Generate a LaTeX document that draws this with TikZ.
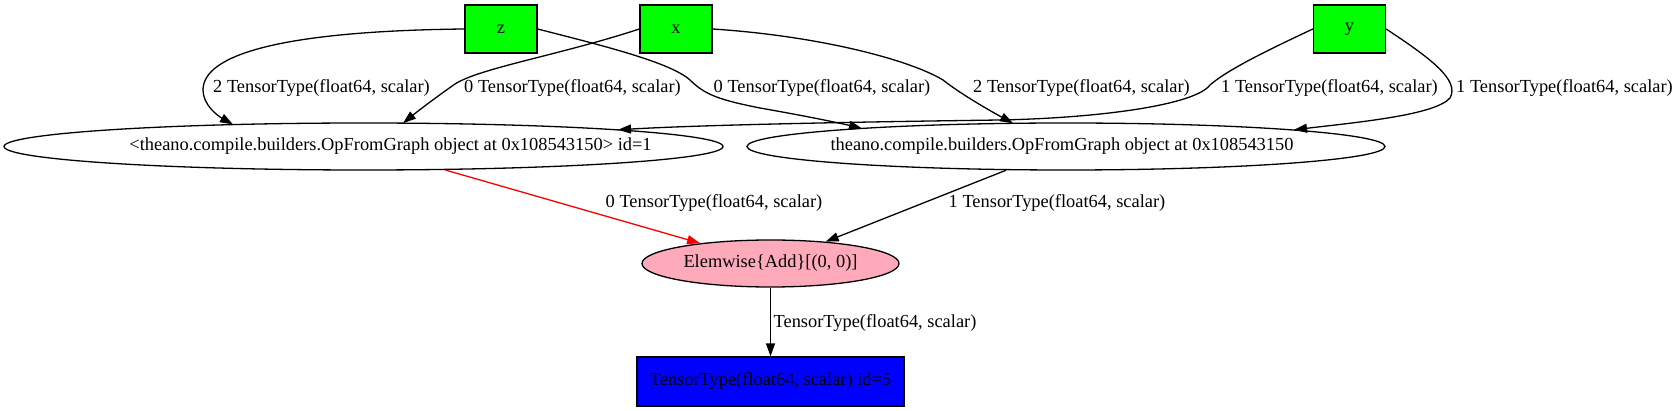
\documentclass[tikz,border=0pt]{standalone}
\usepackage{fontspec}
\setmainfont{Liberation Serif}
\usetikzlibrary{shapes.geometric,arrows.meta}
\definecolor{ingreen}{HTML}{00FF00}
\definecolor{outblue}{HTML}{0000FF}
\definecolor{applypink}{HTML}{FFAABB}
\tikzset{
  varbox/.style={draw, line width=1.3pt, fill=ingreen, minimum width=72pt, minimum height=48pt, inner sep=0pt},
  outbox/.style={draw, line width=1.3pt, fill=outblue, minimum width=267pt, minimum height=49pt, inner sep=0pt},
  opnode/.style={draw, line width=1.3pt, ellipse, minimum height=47pt, inner sep=0pt},
  edge/.style={line width=1.3pt, -{Triangle[length=13pt,width=9pt]}},
  elabel/.style={inner sep=0pt, anchor=center}
}
\begin{document}
\begin{tikzpicture}[x=1pt,y=-1pt,font=\fontsize{18.4}{22}\selectfont]
\useasboundingbox (0,0) rectangle (1680,411);
% nodes
\node[varbox] (z) at (501,29) {z};
\node[varbox] (x) at (676,29) {x};
\node[varbox] (y) at (1349.5,29) {y};
\node[opnode, minimum width=719pt, label={[xshift=27pt]center:<theano.compile.builders.OpFromGraph object at 0x108543150> id=1}] (ofg1) at (363.5,146.5) {};
\node[opnode, minimum width=638pt, label={[xshift=-4pt]center:theano.compile.builders.OpFromGraph object at 0x108543150}] (ofg2) at (1066,146.5) {};
\node[opnode, fill=applypink, minimum width=257pt, label={center:Elemwise\{Add\}[(0, 0)]}] (add) at (770.5,263.5) {};
\node[outbox] (out) at (770.5,381.5) {TensorType(float64, scalar) id=5};
% connector end points on node borders
\coordinate (e1a) at (233,124.5);
\coordinate (e2a) at (403,123.2);
\coordinate (e3a) at (862,128.4);
\coordinate (e4a) at (1013,123.3);
\coordinate (e5a) at (618,129.8);
\coordinate (e6a) at (1294,129.8);
% edges
\draw[edge] (z.west) .. controls (280,31) and (203,55) .. (203,90) .. controls (203,105) and (218,116) .. (e1a);
\draw[edge] (x.west) .. controls (560,55) and (480,68) .. (455,84) .. controls (435,98) and (418,111) .. (e2a);
\draw[edge] (z.east) .. controls (600,45) and (670,62) .. (690,80) .. controls (705,95) and (720,100) .. (760,108) .. controls (800,115) and (835,122) .. (e3a);
\draw[edge] (x.east) .. controls (820,36) and (910,60) .. (943,80) .. controls (958,92) and (985,108) .. (e4a);
\draw[edge] (y.west) .. controls (1255,56) and (1225,72) .. (1210,85) .. controls (1195,105) and (1100,118) .. (1000,120) .. controls (850,122) and (700,125) .. (e5a);
\draw[edge] (y.east) .. controls (1430,58) and (1460,80) .. (1450,98) .. controls (1435,115) and (1360,122) .. (e6a);
\draw[edge, red] (ofg1) -- (add);
\draw[edge] (ofg2) -- (add);
\draw[edge] (add) -- (out);
% labels
\node[elabel] (l1) at (321.5,88) {2 TensorType(float64, scalar)};
\node[elabel] (l2) at (572.5,88) {0 TensorType(float64, scalar)};
\node[elabel] (l3) at (822,88) {0 TensorType(float64, scalar)};
\node[elabel] (l4) at (1081.5,88) {2 TensorType(float64, scalar)};
\node[elabel] (l5) at (1329.5,88) {1 TensorType(float64, scalar)};
\node[elabel] (l6) at (1564.5,88) {1 TensorType(float64, scalar)};
\node[elabel] (l7) at (714,203) {0 TensorType(float64, scalar)};
\node[elabel] (l8) at (1057,203) {1 TensorType(float64, scalar)};
\node[elabel] (l9) at (875,323) {TensorType(float64, scalar)};
\end{tikzpicture}
\end{document}
